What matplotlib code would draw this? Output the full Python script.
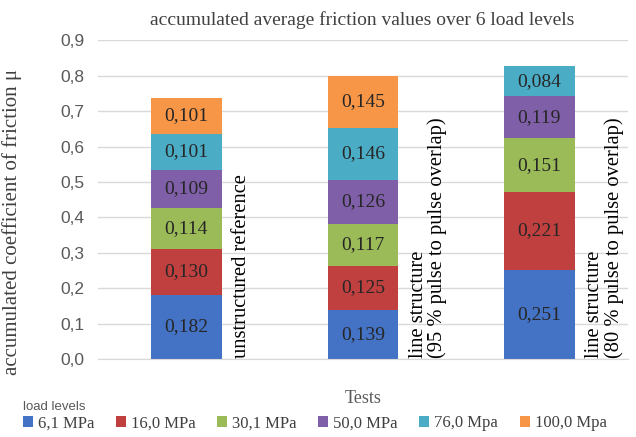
import matplotlib
matplotlib.use("Agg")
import matplotlib.pyplot as plt
import numpy as np

SERIF = "Liberation Serif"
SANS = "Liberation Sans"

TESTS = [
    "unstructured reference",
    "line structure\n(95 % pulse to pulse overlap)",
    "line structure\n(80 % pulse to pulse overlap)",
]
LOAD_LEVELS = ["6,1 MPa", "16,0 MPa", "30,1 MPa", "50,0 MPa", "76,0 Mpa", "100,0 Mpa"]

# friction per load level, one entry per test (0 = not measured)
MU_6_1 = [0.182, 0.139, 0.251]
MU_16_0 = [0.130, 0.125, 0.221]
MU_30_1 = [0.114, 0.117, 0.151]
MU_50_0 = [0.109, 0.126, 0.119]
MU_76_0 = [0.101, 0.146, 0.084]
MU_100_0 = [0.101, 0.145, 0.0]

YTICKS = [0.0, 0.1, 0.2, 0.3, 0.4, 0.5, 0.6, 0.7, 0.8, 0.9]

COLORS = ["#4472C4", "#C0403F", "#9BBB59", "#7F5FA8", "#4BACC6", "#F79646"]
GRID = "#D9D9D9"
TEXT_GREY = "#595959"

series = [MU_6_1, MU_16_0, MU_30_1, MU_50_0, MU_76_0, MU_100_0]

fig = plt.figure(figsize=(6.36, 4.37), dpi=100)
ax = fig.add_axes([0.154, 0.178, 0.833, 0.73])

x = np.arange(len(TESTS))
bottom = np.zeros(len(TESTS))
handles = []
for vals, color, name in zip(series, COLORS, LOAD_LEVELS):
    vals = np.asarray(vals)
    bars = ax.bar(x, vals, width=0.4, bottom=bottom, color=color,
                  label=name, zorder=2)
    handles.append(bars)
    for xi, b, v in zip(x, bottom, vals):
        if v > 0:
            ax.text(xi, b + v / 2, f"{v:.3f}".replace(".", ","),
                    ha="center", va="center", fontsize=14,
                    family=SERIF, color="#262626", zorder=3)
    bottom += vals

# test names written upright next to each bar
for xi, name in zip(x, TESTS):
    ax.text(xi + 0.26, 0.004, name, rotation=90, ha="left", va="bottom",
            fontsize=14.8, family=SERIF, color="black",
            multialignment="left", linespacing=0.98)

ax.set_xlim(-0.5, 2.5)
ax.set_ylim(0, 0.9)
ax.set_yticks(YTICKS)
ax.set_yticklabels([f"{t:.1f}".replace(".", ",") for t in YTICKS],
                   family=SANS, fontsize=12.5, color=TEXT_GREY)
ax.set_xticks(x)
ax.set_xticklabels([""] * len(TESTS))
ax.tick_params(length=0, pad=10)
ax.grid(axis="y", color=GRID, linewidth=1, zorder=0)
for side in ["left", "right", "top"]:
    ax.spines[side].set_visible(False)
ax.spines["bottom"].set_color(GRID)

ax.set_ylabel("accumulated coefficient of friction μ", family=SERIF,
              fontsize=15, color="#404040")
ax.yaxis.set_label_coords(-0.143, 0.43)
ax.set_xlabel("Tests", family=SERIF, fontsize=13, color=TEXT_GREY,
              labelpad=12)
fig.text(0.57, 0.955, "accumulated average friction values over 6 load levels",
         ha="center", va="center", family=SERIF, fontsize=14, color="#404040")

leg = fig.legend(handles=handles, labels=LOAD_LEVELS, loc="lower left",
                 bbox_to_anchor=(0.02, -0.01), ncol=6, frameon=False,
                 title="load levels", alignment="left",
                 prop={"family": SERIF, "size": 12},
                 handlelength=0.6, handleheight=0.6, handletextpad=0.3,
                 columnspacing=1.3, borderaxespad=0.2)
leg.get_title().set_fontfamily(SANS)
leg.get_title().set_fontsize(9.5)
leg.get_title().set_color(TEXT_GREY)
leg._legend_box.sep = 2
for t in leg.get_texts():
    t.set_color("#404040")

fig.savefig("out.png", dpi=100)
